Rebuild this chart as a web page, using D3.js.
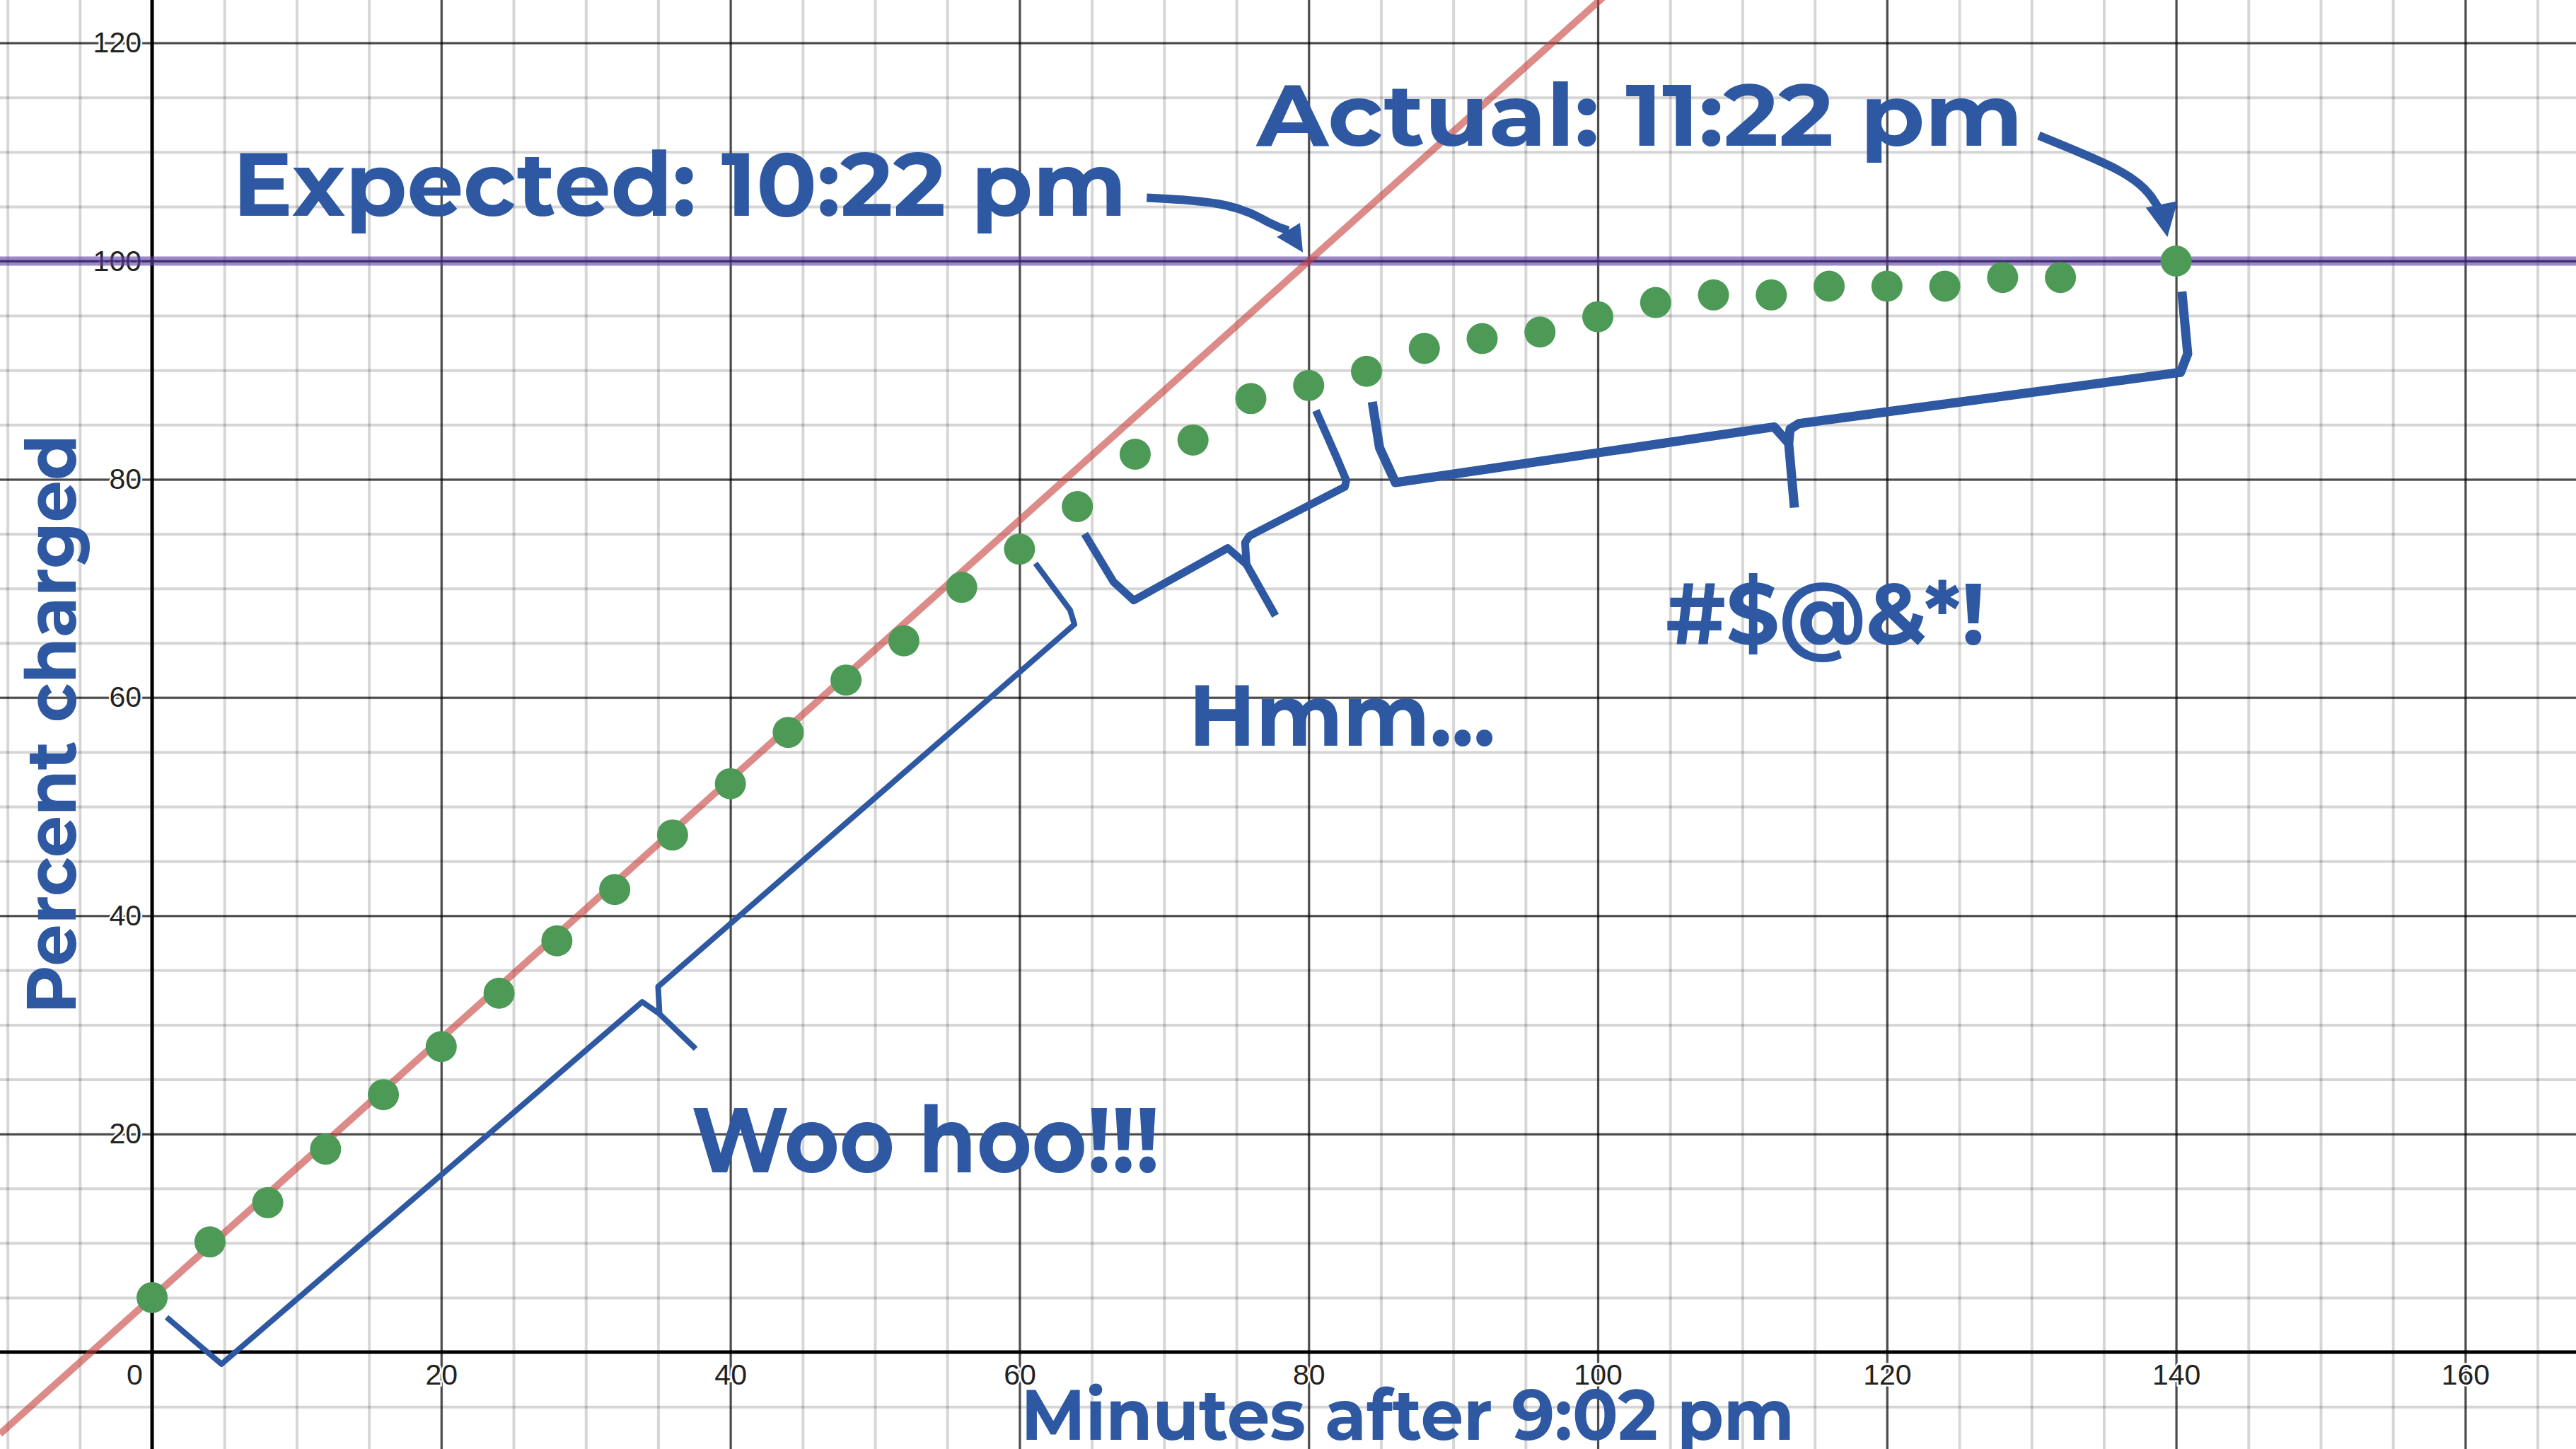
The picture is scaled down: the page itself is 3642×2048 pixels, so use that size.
<!DOCTYPE html>
<html>
<head>
<meta charset="utf-8">
<script src="https://cdn.jsdelivr.net/npm/d3@7"></script>
<style>
  html, body { margin: 0; padding: 0; background: #fff; }
  svg { display: block; }
</style>
</head>
<body>
<svg id="chart"></svg>
<script>
// readings: minutes after 9:02 pm vs percent charged
const minutes = [0, 4, 8, 12, 16, 20, 24, 28, 32, 36, 40, 44, 48, 52, 56, 60, 64, 68, 72, 76,
                 80, 84, 88, 92, 96, 100, 104, 108, 112, 116, 120, 124, 128, 132, 140];
const percent = [5.0, 10.1, 13.7, 18.6, 23.6, 28.0, 32.9, 37.7, 42.4, 47.4, 52.1, 56.8, 61.6, 65.2, 70.1, 73.6,
                 77.5, 82.3, 83.6, 87.4, 88.6, 89.9, 92.0, 92.9, 93.5, 94.9, 96.2, 96.9, 96.9, 97.7, 97.7, 97.7,
                 98.5, 98.5, 100];

// expected (linear) charging line, given by two points
const expectedX = [0, 80];
const expectedY = [5, 100];
const fullCharge = 100;

const xTicks = [0, 20, 40, 60, 80, 100, 120, 140, 160];
const yTicks = [20, 40, 60, 80, 100, 120];

const labels = ['Expected: 10:22 pm', 'Actual: 11:22 pm', 'Hmm...', '#$@&*!', 'Woo hoo!!!'];
const xTitle = 'Minutes after 9:02 pm';
const yTitle = 'Percent charged';

const width = 3642, height = 2048;
const blue = '#2e58a2';
const font = 'Montserrat, "Open Sans", sans-serif';

const svg = d3.select('#chart').attr('width', width).attr('height', height);
svg.append('rect').attr('width', width).attr('height', height).attr('fill', '#fff');

const x = d3.scaleLinear().domain([-10.52, 167.66]).range([0, width]);
const y = d3.scaleLinear().domain([-8.88, 123.93]).range([height, 0]);

// grid, desmos style
const grid = (vals, horiz, cls) => {
  const g = svg.append('g').attr('class', cls);
  if (horiz) {
    g.call(d3.axisLeft(y).tickValues(vals).tickSize(-width).tickFormat(''));
  } else {
    g.attr('transform', `translate(0,${height})`)
      .call(d3.axisBottom(x).tickValues(vals).tickSize(-height).tickFormat(''));
  }
  g.select('.domain').remove();
  return g;
};
grid(d3.range(-10, 170, 5), false, 'minor').selectAll('line').attr('stroke', '#000').attr('stroke-opacity', 0.16).attr('stroke-width', 4);
grid(d3.range(-5, 125, 5), true, 'minor').selectAll('line').attr('stroke', '#000').attr('stroke-opacity', 0.16).attr('stroke-width', 4);
grid(d3.range(-0, 170, 20), false, 'major').selectAll('line').attr('stroke', '#000').attr('stroke-opacity', 0.65).attr('stroke-width', 3);
grid(d3.range(0, 125, 20), true, 'major').selectAll('line').attr('stroke', '#000').attr('stroke-opacity', 0.65).attr('stroke-width', 3);

// axes lines
svg.append('line').attr('x1', 0).attr('x2', width).attr('y1', y(0)).attr('y2', y(0))
  .attr('stroke', '#000').attr('stroke-width', 5);
svg.append('line').attr('x1', x(0)).attr('x2', x(0)).attr('y1', 0).attr('y2', height)
  .attr('stroke', '#000').attr('stroke-width', 5);

// tick labels
const xAxis = svg.append('g')
  .attr('transform', `translate(0,${y(0)})`)
  .call(d3.axisBottom(x).tickValues(xTicks).tickSize(0).tickPadding(17));
const yAxis = svg.append('g')
  .attr('transform', `translate(${x(0)},0)`)
  .call(d3.axisLeft(y).tickValues(yTicks).tickSize(0).tickPadding(15));
[xAxis, yAxis].forEach(a => {
  a.select('.domain').remove();
  a.selectAll('text')
    .attr('font-family', '"Liberation Sans", Arial, sans-serif')
    .attr('font-size', 41)
    .attr('fill', '#222')
    .attr('stroke', '#fff').attr('stroke-width', 5).attr('paint-order', 'stroke');
});
xAxis.selectAll('text').filter(d => d === 0).attr('dx', -25);

// 100% line
svg.append('line').attr('x1', 0).attr('x2', width).attr('y1', y(fullCharge)).attr('y2', y(fullCharge))
  .attr('stroke', '#6042a6').attr('stroke-opacity', 0.62).attr('stroke-width', 13);
svg.append('line').attr('x1', 0).attr('x2', width).attr('y1', y(fullCharge)).attr('y2', y(fullCharge))
  .attr('stroke', '#3a2468').attr('stroke-opacity', 0.75).attr('stroke-width', 3);

// expected line, extended across the view
const slope = (expectedY[1] - expectedY[0]) / (expectedX[1] - expectedX[0]);
const xa = x.domain()[0], xb = 110;
svg.append('line')
  .attr('x1', x(xa)).attr('y1', y(expectedY[0] + slope * (xa - expectedX[0])))
  .attr('x2', x(xb)).attr('y2', y(expectedY[0] + slope * (xb - expectedX[0])))
  .attr('stroke', '#c74440').attr('stroke-opacity', 0.62).attr('stroke-width', 10);

// readings
svg.append('g').selectAll('circle')
  .data(minutes.map((m, i) => [m, percent[i]]))
  .join('circle')
  .attr('cx', d => x(d[0]))
  .attr('cy', d => y(d[1]))
  .attr('r', 22)
  .attr('fill', '#4c9a55');

// braces (drawn in data coordinates)
const line = d3.line().x(d => x(d[0])).y(d => y(d[1]));
const braces = [
  { w: 8, parts: [
    [[1.0, 3.2], [3.2, 0.7], [4.8, -1.1], [33.9, 32.1], [35.1, 31.0], [37.6, 27.8]],
    [[35.1, 31.0], [35.0, 33.5], [63.8, 66.7], [63.5, 68.0], [61.1, 72.3]]
  ]},
  { w: 11, parts: [
    [[64.5, 75.0], [66.5, 70.6], [67.9, 68.9], [74.4, 73.7], [75.7, 72.2], [77.7, 67.5]],
    [[75.7, 72.2], [75.6, 74.2], [75.9, 74.8], [82.5, 79.3], [82.6, 79.9], [82.0, 81.8], [80.5, 86.3]]
  ]},
  { w: 13, parts: [
    [[84.4, 87.1], [84.9, 82.9], [86.0, 79.7], [112.2, 84.8], [113.2, 83.3], [113.6, 77.4]],
    [[113.2, 83.3], [113.3, 84.6], [113.9, 85.1], [140.3, 89.8], [140.8, 91.5], [140.4, 97.2]]
  ]}
];
braces.forEach(b => b.parts.forEach(p => {
  svg.append('path').attr('d', line(p))
    .attr('fill', 'none').attr('stroke', blue).attr('stroke-width', b.w)
    .attr('stroke-linejoin', 'round');
}));

// arrows
const curve = d3.line().x(d => x(d[0])).y(d => y(d[1])).curve(d3.curveNatural);
const arrows = [
  { path: [[68.8, 105.8], [74.3, 105.1], [77.3, 103.5], [78.6, 102.8]],
    head: [[79.6, 100.8], [77.8, 102.2], [79.4, 103.5]] },
  { path: [[130.5, 111.5], [135.9, 108.4], [138.1, 106.2], [138.9, 104.6]],
    head: [[139.4, 102.2], [137.9, 104.9], [140.1, 105.5]] }
];
arrows.forEach(a => {
  svg.append('path').attr('d', curve(a.path))
    .attr('fill', 'none').attr('stroke', blue).attr('stroke-width', 12);
  svg.append('path').attr('d', line(a.head) + 'Z').attr('fill', blue);
});

// annotation text: [left, baseline, right] in data units, font size in px
const notes = [
  [5.58, 104.15, 67.4, 126],
  [76.4, 110.6, 129.4, 123],
  [71.7, 55.6, 92.9, 123],
  [104.7, 64.85, 126.8, 123],
  [37.3, 16.5, 69.7, 129]
];
notes.forEach((n, i) => {
  svg.append('text')
    .attr('x', x(n[0])).attr('y', y(n[1]))
    .attr('font-family', font).attr('font-weight', 700).attr('font-size', n[3])
    .attr('fill', blue)
    .attr('textLength', x(n[2]) - x(n[0])).attr('lengthAdjust', 'spacingAndGlyphs')
    .text(labels[i]);
});

// axis titles
svg.append('text')
  .attr('x', x(60.1)).attr('y', y(-8.04))
  .attr('font-family', font).attr('font-weight', 700).attr('font-size', 101)
  .attr('fill', blue)
  .attr('textLength', x(113.6) - x(60.1)).attr('lengthAdjust', 'spacingAndGlyphs')
  .text(xTitle);
svg.append('text')
  .attr('transform', `translate(${x(-5.28)},${y(31.0)}) rotate(-90)`)
  .attr('font-family', font).attr('font-weight', 700).attr('font-size', 98)
  .attr('fill', blue)
  .attr('textLength', y(31.0) - y(84.1)).attr('lengthAdjust', 'spacingAndGlyphs')
  .text(yTitle);
</script>
</body>
</html>
